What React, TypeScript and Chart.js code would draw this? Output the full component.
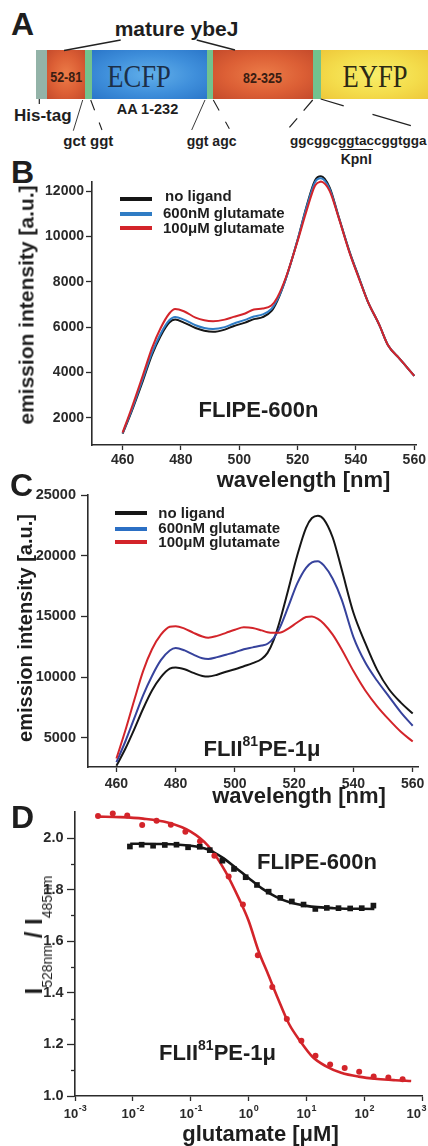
import React, { useEffect, useRef } from "react";
import { Chart, registerables } from "chart.js";

Chart.register(...registerables);

const FONT = '"Liberation Sans", Arial, Helvetica, sans-serif';
const SERIF = '"Liberation Serif", "Times New Roman", serif';

// ---------- Panel B : FLIPE-600n emission spectra ----------
const wavelengthsB = [460, 463, 467, 470, 473, 476, 478, 481, 485, 488, 491, 495, 498, 502, 505, 508, 511, 513, 516, 520, 523, 526, 528, 531, 534, 538, 541, 544, 548, 551, 555, 558, 560];
const noLigandB = [1300, 2250, 3650, 4750, 5600, 6200, 6330, 6200, 5960, 5840, 5790, 5890, 6040, 6200, 6350, 6440, 6700, 7150, 8150, 9850, 11300, 12480, 12650, 12150, 10900, 9250, 8200, 7150, 6100, 5200, 4600, 4150, 3850];
const glu600nMB = [1320, 2300, 3750, 4850, 5700, 6300, 6450, 6330, 6080, 5960, 5920, 6000, 6150, 6320, 6470, 6560, 6800, 7200, 8150, 9850, 11250, 12400, 12560, 12080, 10880, 9230, 8180, 7150, 6100, 5200, 4600, 4150, 3850];
const glu100uMB = [1350, 2400, 3900, 5050, 5950, 6600, 6800, 6700, 6420, 6300, 6260, 6330, 6450, 6600, 6780, 6820, 6950, 7300, 8200, 9800, 11100, 12250, 12420, 12000, 10850, 9200, 8150, 7150, 6100, 5200, 4600, 4150, 3850];
const wavelengthTicks = [460, 480, 500, 520, 540, 560];
const intensityTicksB = [2000, 4000, 6000, 8000, 10000, 12000];

// ---------- Panel C : FLII81PE-1µ emission spectra ----------
const wavelengthsC = [460, 463, 466, 469, 472, 475, 478, 480, 483, 486, 489, 491, 494, 497, 500, 503, 506, 509, 511, 513, 515, 518, 521, 524, 526, 528, 530, 533, 536, 540, 544, 548, 552, 556, 560];
const noLigandC = [2700, 4100, 5700, 7400, 8900, 10000, 10700, 10800, 10650, 10350, 10100, 10050, 10200, 10450, 10650, 10900, 11150, 11500, 12000, 13000, 14500, 17200, 20000, 22300, 23100, 23300, 23000, 21500, 18900, 15300, 12800, 10600, 9000, 7900, 7000];
const glu600nMC = [3000, 4700, 6600, 8500, 10100, 11400, 12200, 12400, 12200, 11850, 11550, 11500, 11650, 11850, 12050, 12300, 12450, 12600, 12750, 13200, 14000, 15800, 17700, 19000, 19450, 19550, 19200, 18100, 16400, 13300, 11200, 9700, 8400, 7100, 6000];
const glu100uMC = [3300, 5600, 8100, 10500, 12300, 13500, 14150, 14200, 14000, 13650, 13350, 13250, 13400, 13650, 13900, 14100, 14050, 13850, 13700, 13650, 13650, 14000, 14500, 14950, 15000, 14800, 14400, 13500, 12300, 10500, 8900, 7600, 6500, 5500, 4700];
const intensityTicksC = [5000, 10000, 15000, 20000, 25000];

// ---------- Panel D : titration ----------
const concFLII = [0.0025, 0.0045, 0.008, 0.0145, 0.0257, 0.0454, 0.081, 0.145, 0.257, 0.454, 0.8, 1.45, 2.58, 4.6, 8.2, 14.4, 25.8, 46, 82, 146, 262, 462];
const ratioFLII = [2.085, 2.095, 2.087, 2.05, 2.067, 2.051, 2.024, 1.987, 1.931, 1.851, 1.742, 1.546, 1.422, 1.298, 1.214, 1.156, 1.122, 1.109, 1.094, 1.076, 1.072, 1.065];
const concFLIIFit = [0.0025, 0.006, 0.015, 0.04, 0.1, 0.2, 0.4, 0.7, 1.0, 1.5, 2.2, 3.2, 5, 8, 13, 22, 40, 80, 170, 350, 650];
const ratioFLIIFit = [2.083, 2.081, 2.075, 2.06, 2.025, 1.97, 1.87, 1.76, 1.68, 1.56, 1.47, 1.38, 1.28, 1.21, 1.15, 1.115, 1.09, 1.075, 1.066, 1.061, 1.058];
const concFLIPE = [0.0089, 0.0142, 0.0224, 0.0357, 0.0569, 0.0902, 0.1435, 0.214, 0.354, 0.561, 0.893, 1.4, 2.23, 3.55, 5.62, 8.95, 14.3, 22.6, 36, 57.3, 90.8, 144.5];
const ratioFLIPE = [1.967, 1.974, 1.97, 1.973, 1.974, 1.964, 1.966, 1.953, 1.912, 1.88, 1.848, 1.818, 1.792, 1.768, 1.754, 1.742, 1.725, 1.729, 1.728, 1.727, 1.728, 1.738];
const concFLIPEFit = [0.009, 0.03, 0.1, 0.2, 0.35, 0.6, 1.0, 1.7, 3, 5, 10, 30, 150];
const ratioFLIPEFit = [1.978, 1.977, 1.97, 1.955, 1.925, 1.885, 1.845, 1.805, 1.772, 1.752, 1.737, 1.728, 1.725];
const ratioTicks = [1.0, 1.2, 1.4, 1.6, 1.8, 2.0];
const ratioMinorTicks = [1.1, 1.3, 1.5, 1.7, 1.9];
const concDecades = [-3, -2, -1, 0, 1, 2, 3];

const legendLabels = ["no ligand", "600nM glutamate", "100μM glutamate"];

const BLACK = "#161616";
const RED = "#d3242a";
const BLUE_B = "#2f7cc4";
const BLUE_C = "#36429c";
const BLUE_LEG_C = "#2b6fc4";
const AXIS = "#2b2b2b";
const TXT = "#1e1e1e";

type AxisOpt = {
  min: number; max: number; ticks: number[]; size: number; tl: number; pad: number;
  fontSize: number; horizontal: boolean; log?: boolean; showLabels?: boolean; fmt?: (v: number) => string;
};

function makeAxis(o: AxisOpt) {
  return {
    type: o.log ? "logarithmic" : "linear",
    min: o.min,
    max: o.max,
    afterBuildTicks: (s: any) => { s.ticks = o.ticks.map((v) => ({ value: v })); },
    afterFit: (s: any) => { if (o.horizontal) s.height = o.size; else s.width = o.size; },
    border: { display: true, color: AXIS, width: 1.6 },
    grid: { display: true, drawOnChartArea: false, drawTicks: true, tickLength: o.tl, tickColor: AXIS, tickWidth: 1.3 },
    ticks: {
      display: o.showLabels !== false,
      color: "#2a2a2a",
      padding: o.pad,
      maxRotation: 0,
      minRotation: 0,
      autoSkip: false,
      font: { family: FONT, size: o.fontSize, weight: "bold" },
      callback: (v: any) => (o.fmt ? o.fmt(Number(v)) : String(v)),
    },
  };
}

function curve(xs: number[], ys: number[], color: string, width = 2) {
  return {
    data: xs.map((x, i) => ({ x, y: ys[i] })),
    showLine: true, borderColor: color, backgroundColor: color, borderWidth: width,
    pointRadius: 0, cubicInterpolationMode: "monotone", clip: false, fill: false,
  };
}

function marks(xs: number[], ys: number[], color: string, style: string, r: number) {
  return {
    data: xs.map((x, i) => ({ x, y: ys[i] })),
    showLine: false, pointStyle: style, pointRadius: r, backgroundColor: color,
    borderColor: color, borderWidth: 0, clip: false,
  };
}

function baseOptions(padding: any, scales: any) {
  return {
    responsive: false, maintainAspectRatio: false, animation: false, devicePixelRatio: 1,
    events: [], layout: { padding },
    plugins: { legend: { display: false }, tooltip: { enabled: false } },
    scales,
  };
}

const panelDPlugin = {
  id: "panelD",
  afterDraw(chart: any) {
    const ctx = chart.ctx;
    const xs = chart.scales.x;
    const ys = chart.scales.y;
    ctx.save();
    ctx.strokeStyle = AXIS;
    ctx.lineWidth = 1.3;
    ratioMinorTicks.forEach((v) => {
      const py = Math.round(ys.getPixelForValue(v)) + 0.5;
      ctx.beginPath();
      ctx.moveTo(ys.right, py);
      ctx.lineTo(ys.right - 4, py);
      ctx.stroke();
    });
    ctx.fillStyle = "#2a2a2a";
    ctx.textBaseline = "alphabetic";
    ctx.textAlign = "left";
    const W = chart.width;
    concDecades.forEach((e) => {
      const px = xs.getPixelForValue(Math.pow(10, e));
      const exp = e < 0 ? "-" + -e : String(e);
      ctx.font = `bold 13px ${FONT}`;
      const w1 = ctx.measureText("10").width;
      ctx.font = `bold 9px ${FONT}`;
      const w2 = ctx.measureText(exp).width;
      let x0 = px - (w1 + w2) / 2;
      if (x0 + w1 + w2 + 1 > W - 1) x0 = W - 1 - (w1 + w2 + 1);
      ctx.font = `bold 13px ${FONT}`;
      ctx.fillText("10", x0, xs.top + 22);
      ctx.font = `bold 9px ${FONT}`;
      ctx.fillText(exp, x0 + w1 + 0.5, xs.top + 15);
    });
    ctx.restore();
  },
};

function buildB() {
  return {
    type: "scatter",
    data: {
      datasets: [
        curve(wavelengthsB, glu100uMB, RED),
        curve(wavelengthsB, glu600nMB, BLUE_B),
        curve(wavelengthsB, noLigandB, BLACK),
      ],
    },
    options: baseOptions({ left: 0, right: 6, top: 32, bottom: 0 }, {
      x: makeAxis({ min: 449.5, max: 560.7, ticks: wavelengthTicks, size: 25, tl: 5, pad: 2, fontSize: 14, horizontal: true }),
      y: makeAxis({ min: 800, max: 12400, ticks: intensityTicksB, size: 92, tl: 6, pad: 2, fontSize: 14, horizontal: false }),
    }),
  };
}

function buildC() {
  return {
    type: "scatter",
    data: {
      datasets: [
        curve(wavelengthsC, glu100uMC, RED),
        curve(wavelengthsC, glu600nMC, BLUE_C),
        curve(wavelengthsC, noLigandC, BLACK),
      ],
    },
    options: baseOptions({ left: 0, right: 7.3, top: 25, bottom: 0 }, {
      x: makeAxis({ min: 450.4, max: 561.9, ticks: wavelengthTicks, size: 23, tl: 5, pad: 3.5, fontSize: 14, horizontal: true }),
      y: makeAxis({ min: 2600, max: 25000, ticks: intensityTicksC, size: 88, tl: 7, pad: 5, fontSize: 14.5, horizontal: false }),
    }),
  };
}

function buildD() {
  return {
    type: "scatter",
    data: {
      datasets: [
        marks(concFLIPE, ratioFLIPE, BLACK, "rect", 4),
        marks(concFLII, ratioFLII, RED, "circle", 3),
        curve(concFLIPEFit, ratioFLIPEFit, BLACK, 2.6),
        curve(concFLIIFit, ratioFLIIFit, RED, 2.6),
      ],
    },
    options: baseOptions({ left: 0, right: 6, top: 11, bottom: 0 }, {
      x: makeAxis({ min: 0.001, max: 1000, ticks: concDecades.map((e) => Math.pow(10, e)), size: 29, tl: 5, pad: 2, fontSize: 12, horizontal: true, log: true, showLabels: false }),
      y: makeAxis({ min: 1.0, max: 2.1, ticks: ratioTicks, size: 75, tl: 8, pad: 3.5, fontSize: 14.5, horizontal: false, fmt: (v) => v.toFixed(1) }),
    }),
    plugins: [panelDPlugin],
  };
}

function ChartBox({ top, height, build }: { top: number; height: number; build: () => any }) {
  const ref = useRef<HTMLCanvasElement | null>(null);
  useEffect(() => {
    if (!ref.current) return;
    const chart = new Chart(ref.current, build());
    return () => chart.destroy();
  }, []);
  return (
    <canvas
      ref={ref}
      width={428}
      height={height}
      style={{ position: "absolute", left: 0, top, width: 428, height, display: "block" }}
    />
  );
}

function T(props: {
  x: number; y: number; size: number; children: any; bold?: boolean; align?: "left" | "center" | "right";
  family?: string; color?: string; extra?: string; style?: any;
}) {
  const { x, y, size, children, bold = true, align = "left", family = FONT, color = TXT, extra = "", style = {} } = props;
  const tx = align === "center" ? "-50%" : align === "right" ? "-100%" : "0";
  return (
    <div
      style={{
        position: "absolute", left: x, top: y - 0.8465 * size, fontFamily: family, fontSize: size,
        lineHeight: `${size}px`, fontWeight: bold ? "bold" : "normal", whiteSpace: "nowrap", color,
        transform: `translateX(${tx}) ${extra}`, ...style,
      }}
    >
      {children}
    </div>
  );
}

function RT({ cx, cy, size, children }: { cx: number; cy: number; size: number; children: any }) {
  return (
    <div
      style={{
        position: "absolute", left: cx, top: cy, fontFamily: FONT, fontSize: size, lineHeight: `${size}px`,
        height: size, fontWeight: "bold", whiteSpace: "nowrap", color: TXT,
        transform: "translate(-50%,-50%) rotate(-90deg)",
      }}
    >
      {children}
    </div>
  );
}

function Legend({ x, lineX, rows, colors }: { x: number[]; lineX: number; rows: { line: number; base: number }[]; colors: string[] }) {
  return (
    <>
      {rows.map((r, i) => (
        <React.Fragment key={i}>
          <div style={{ position: "absolute", left: lineX, top: r.line - 2, width: 32, height: 4, background: colors[i] }} />
          <T x={x[i]} y={r.base} size={15}>{legendLabels[i]}</T>
        </React.Fragment>
      ))}
    </>
  );
}

const orangeBg = "radial-gradient(ellipse at center, #ec7c48 0%, #dc5f35 55%, #c44a2b 100%)";
const blueBg = "radial-gradient(ellipse at center, #62b0ea 0%, #3f8fdb 55%, #2a76c9 100%)";
const yellowBg = "radial-gradient(ellipse at center, #f8ee6a 0%, #f4dd4c 55%, #eec83a 100%)";
const greenBg = "#72c28e";
const greyBg = "#93b3a8";

function PanelA() {
  const segs: [number, number, string][] = [
    [36, 46.7, greyBg], [46.7, 85, orangeBg], [85, 91.7, greenBg], [91.7, 207.3, blueBg],
    [207.3, 213.3, greenBg], [213.3, 313.3, orangeBg], [313.3, 321, greenBg], [321, 428, yellowBg],
  ];
  return (
    <>
      {segs.map(([a, b, bg], i) => (
        <div key={i} style={{ position: "absolute", left: a, top: 50, width: b - a + 0.5, height: 49, background: bg }} />
      ))}
      <svg width={428} height={180} style={{ position: "absolute", left: 0, top: 0 }}>
        <g stroke="#222" fill="none">
          <line x1={64} y1={50.5} x2={120.7} y2={40} strokeWidth={1.4} />
          <line x1={196.7} y1={40} x2={235} y2={50} strokeWidth={1.4} />
          <line x1={39.3} y1={99} x2={39.3} y2={104} strokeWidth={1.2} />
          <line x1={82.7} y1={100} x2={73.3} y2={130.7} strokeWidth={0.9} />
          <line x1={90.7} y1={100} x2={102} y2={130} strokeWidth={1.1} strokeDasharray="11 13 8" />
          <line x1={205} y1={100} x2={191.7} y2={130} strokeWidth={0.9} />
          <line x1={213.3} y1={100} x2={230} y2={130} strokeWidth={1.1} strokeDasharray="12 13 8" />
          <line x1={312.7} y1={100} x2={286.7} y2={130.7} strokeWidth={1.2} strokeDasharray="14 10 12" />
          <line x1={320.7} y1={99} x2={428} y2={130.7} strokeWidth={1.2} strokeDasharray="24 30 40" />
          <line x1={340.5} y1={149.5} x2={373} y2={149.5} strokeWidth={1.1} />
        </g>
      </svg>
      <T x={11} y={35} size={32}>A</T>
      <T x={176.5} y={36} size={21} align="center">mature ybeJ</T>
      <T x={66.2} y={82} size={12.5} align="center" color="#3a1d12" extra="scaleY(1.2)">52-81</T>
      <T x={138.5} y={87.3} size={32} align="center" family={SERIF} bold={false} color="#1c2f48" extra="scaleX(0.83)">ECFP</T>
      <T x={262.5} y={82.7} size={12.5} align="center" color="#3a1d12" extra="scaleY(1.2)">82-325</T>
      <T x={374.5} y={87.3} size={32} align="center" family={SERIF} bold={false} color="#2c2a14" extra="scaleX(0.83)">EYFP</T>
      <T x={14} y={121.5} size={17}>His-tag</T>
      <T x={116.7} y={114} size={14.5}>AA 1-232</T>
      <T x={63.3} y={145.7} size={15}>gct ggt</T>
      <T x={186.7} y={145.7} size={14}>ggt agc</T>
      <T x={290} y={145.7} size={13.5}>ggcggcggtaccggtgga</T>
      <T x={340.7} y={164} size={14}>KpnI</T>
    </>
  );
}

export default function App() {
  useEffect(() => {
    document.body.style.margin = "0";
    document.body.style.background = "#ffffff";
  }, []);
  return (
    <div style={{ position: "relative", width: 428, height: 1146, overflow: "hidden", background: "#ffffff" }}>
      <PanelA />

      {/* Panel B */}
      <T x={11} y={183} size={32}>B</T>
      <ChartBox top={150} height={320} build={buildB} />
      <RT cx={25.7} cy={305} size={21}>emission intensity [a.u.]</RT>
      <T x={303.5} y={488} size={22} align="center">wavelength [nm]</T>
      <Legend x={[165, 163, 163]} lineX={120} rows={[{ line: 198.5, base: 201 }, { line: 213.5, base: 218 }, { line: 228, base: 233 }]} colors={[BLACK, BLUE_B, RED]} />
      <T x={258.5} y={418} size={22} align="center">FLIPE-600n</T>

      {/* Panel C */}
      <T x={10} y={496} size={32}>C</T>
      <ChartBox top={470} height={320} build={buildC} />
      <RT cx={24.8} cy={628} size={20}>emission intensity [a.u.]</RT>
      <T x={299} y={804} size={22} align="center">wavelength [nm]</T>
      <Legend x={[158.3, 158.3, 158.3]} lineX={115} rows={[{ line: 513.3, base: 517.5 }, { line: 529, base: 532.5 }, { line: 542.3, base: 546.7 }]} colors={[BLACK, BLUE_LEG_C, RED]} />
      <T x={262} y={757} size={22} align="center">
        FLII<span style={{ fontSize: 14, position: "relative", top: -10 }}>81</span>PE-1μ
      </T>

      {/* Panel D */}
      <T x={11} y={828} size={32}>D</T>
      <ChartBox top={800} height={325} build={buildD} />
      <RT cx={33.7} cy={935} size={24}>
        I<span style={{ fontSize: 14, fontWeight: "normal", position: "relative", top: 10 }}>528nm</span> / I
        <span style={{ fontSize: 14, fontWeight: "normal", position: "relative", top: 10 }}>485nm</span>
      </RT>
      <T x={317} y={870} size={22} align="center">FLIPE-600n</T>
      <T x={217.5} y={1061} size={22} align="center">
        FLII<span style={{ fontSize: 14, position: "relative", top: -10 }}>81</span>PE-1μ
      </T>
      <T x={260.5} y={1141.5} size={22} align="center">glutamate [μM]</T>
    </div>
  );
}
